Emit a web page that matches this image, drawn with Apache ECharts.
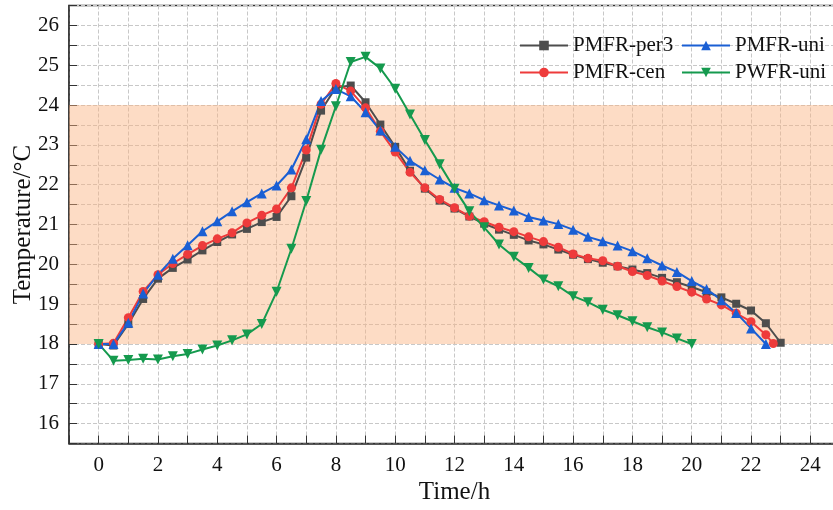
<!DOCTYPE html>
<html><head><meta charset="utf-8">
<script src="https://cdn.jsdelivr.net/npm/echarts@6/dist/echarts.min.js"></script>
<style>html,body{margin:0;padding:0;background:#fff}#c{width:833px;height:510px}</style>
</head><body><div id="c"></div>
<script>
var hours = [0,0.5,1,1.5,2,2.5,3,3.5,4,4.5,5,5.5,6,6.5,7,7.5,8,8.5,9,9.5,10,10.5,11,11.5,12,12.5,13,13.5,14,14.5,15,15.5,16,16.5,17,17.5,18,18.5,19,19.5,20,20.5,21,21.5,22,22.5,23];
var cenHours = [0,0.5,1,1.5,2,2.5,3,3.5,4,4.5,5,5.5,6,6.5,7,7.5,8,8.5,9,9.5,10,10.5,11,11.5,12,12.5,13,13.5,14,14.5,15,15.5,16,16.5,17,17.5,18,18.5,19,19.5,20,20.5,21,21.5,22,22.5,22.75];
var per3 = [18.0,17.96,18.5,19.13,19.64,19.91,20.12,20.35,20.56,20.75,20.89,21.06,21.19,21.71,22.68,23.86,24.44,24.49,24.07,23.51,22.95,22.35,21.9,21.6,21.4,21.2,21.02,20.87,20.74,20.6,20.5,20.37,20.24,20.13,20.04,19.95,19.87,19.78,19.66,19.55,19.43,19.3,19.17,19.01,18.84,18.52,18.03];
var cen = [18.0,18.02,18.66,19.32,19.74,20.02,20.25,20.47,20.64,20.79,21.04,21.23,21.39,21.92,22.87,24.02,24.54,24.35,23.93,23.34,22.82,22.31,21.92,21.63,21.42,21.21,21.07,20.93,20.82,20.69,20.57,20.43,20.26,20.15,20.09,19.95,19.82,19.72,19.58,19.44,19.3,19.13,18.98,18.77,18.56,18.23,18.01];
var uni = [18.0,18.0,18.53,19.27,19.74,20.14,20.48,20.83,21.08,21.33,21.56,21.78,21.98,22.38,23.14,24.1,24.4,24.22,23.82,23.36,22.95,22.6,22.36,22.13,21.92,21.78,21.61,21.48,21.35,21.19,21.1,21.01,20.87,20.69,20.58,20.47,20.33,20.15,19.97,19.81,19.58,19.38,19.1,18.78,18.39,18.0];
var pwfr = [18.0,17.58,17.6,17.63,17.61,17.69,17.75,17.86,17.96,18.09,18.24,18.5,19.31,20.39,21.59,22.88,23.97,25.08,25.21,24.92,24.41,23.76,23.12,22.51,21.9,21.33,20.93,20.5,20.19,19.91,19.62,19.45,19.2,19.05,18.86,18.72,18.57,18.42,18.29,18.14,18.0];
var comfortBand = [18, 24];
var names = ['PMFR-per3','PMFR-cen','PMFR-uni','PWFR-uni'];

function pairs(xs, ys){ return ys.map(function(v,i){ return [xs[i], v]; }); }
var FONT = '"Liberation Serif","Times New Roman",serif';
var chart = echarts.init(document.getElementById('c'));
function mk(name, xs, ys, color, symbol, size, rot){
  return {name:name, type:'line', data:pairs(xs,ys), symbol:symbol, symbolSize:size, symbolRotate:rot||0,
    lineStyle:{color:color,width:2}, itemStyle:{color:color}, z:3, animation:false};
}
var s1 = mk(names[0], hours, per3, '#4d4d4d', 'rect', 8);
s1.markArea = {silent:true, itemStyle:{color:'rgba(251,177,126,0.45)'}, data:[[{yAxis:comfortBand[0]},{yAxis:comfortBand[1]}]]};
var option = {
  backgroundColor:'#fff',
  animation:false,
  grid:{left:69, top:5.5, width:771, height:438, show:true, borderColor:'#333', borderWidth:1.5,
        backgroundColor:'transparent', outerBoundsMode:'none', containLabel:false},
  legend:[
    {data:[names[0],names[1]], orient:'vertical', left:514, top:30, itemWidth:48, itemHeight:12, itemGap:6,
     textStyle:{fontFamily:FONT, fontSize:21, color:'#111'}},
    {data:[names[2],names[3]], orient:'vertical', left:676, top:30, itemWidth:48, itemHeight:12, itemGap:6,
     textStyle:{fontFamily:FONT, fontSize:21, color:'#111'}}
  ],
  xAxis:{type:'value', min:-1, max:25, interval:1,
    name:'Time/h', nameLocation:'middle', nameGap:36, nameMoveOverlap:false, nameTextStyle:{fontFamily:FONT, fontSize:25, color:'#111'},
    axisLine:{show:true, onZero:false, lineStyle:{color:'#333', width:1.5}},
    axisTick:{show:true, inside:true, length:8, lineStyle:{color:'#333'}},
    axisLabel:{fontFamily:FONT, fontSize:21, color:'#111', margin:11,
      formatter:function(v){ return (v>=0 && v%2===0) ? String(v) : ''; }},
    splitLine:{show:true, lineStyle:{color:'#c8c8c8', type:'dashed', width:1}}
  },
  yAxis:{type:'value', min:15.5, max:26.5, interval:0.5,
    name:'Temperature/\u00B0C', nameLocation:'middle', nameGap:33, nameMoveOverlap:false, nameTextStyle:{fontFamily:FONT, fontSize:25, color:'#111'},
    axisLine:{show:true, onZero:false, lineStyle:{color:'#333', width:1.5}},
    axisTick:{show:true, inside:true, length:8, lineStyle:{color:'#333'}},
    axisLabel:{fontFamily:FONT, fontSize:21, color:'#111', margin:10,
      formatter:function(v){ return (Math.abs(v-Math.round(v))<1e-6) ? String(Math.round(v)) : ''; }},
    splitLine:{show:true, lineStyle:{color:'#c8c8c8', type:'dashed', width:1}}
  },
  series:[
    s1,
    mk(names[1], cenHours, cen, '#ee3b3b', 'circle', 9),
    mk(names[2], hours.slice(0, uni.length), uni, '#1a5fd4', 'triangle', 10),
    mk(names[3], hours.slice(0, pwfr.length), pwfr, '#159a4e', 'triangle', 10, 180)
  ]
};
chart.setOption(option);
</script></body></html>
